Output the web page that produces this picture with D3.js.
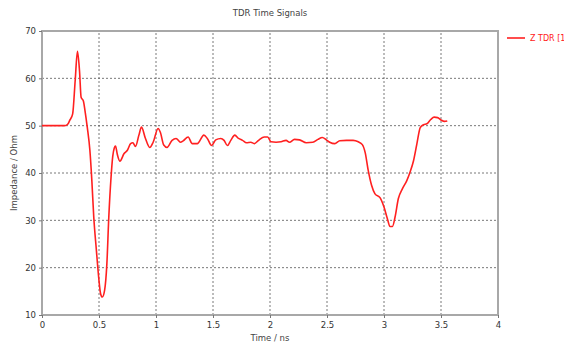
<!DOCTYPE html>
<html>
<head>
<meta charset="utf-8">
<script src="https://cdn.jsdelivr.net/npm/d3@7"></script>
<style>
  body { margin: 0; background: #fff; overflow: hidden; }
  text { font-family: "DejaVu Sans", sans-serif; }
</style>
</head>
<body>
<div id="chart"></div>
<script>
// time axis (ns) and impedance (Ohm)
const timeNs = [0, 0.1, 0.2, 0.225, 0.243, 0.269, 0.291, 0.311, 0.329, 0.343, 0.363, 0.377, 0.397, 0.42, 0.437,
  0.454, 0.477, 0.497, 0.514, 0.529, 0.549, 0.569, 0.586, 0.606, 0.62, 0.634, 0.645, 0.66, 0.683, 0.72, 0.749,
  0.777, 0.797, 0.82, 0.85, 0.873, 0.906, 0.945, 0.975, 1.018, 1.038, 1.068, 1.097, 1.141, 1.176, 1.215, 1.238,
  1.282, 1.318, 1.362, 1.42, 1.45, 1.488, 1.524, 1.568, 1.597, 1.626, 1.656, 1.691, 1.724, 1.759, 1.794, 1.832,
  1.862, 1.9, 1.95, 1.979, 2.009, 2.053, 2.097, 2.141, 2.171, 2.215, 2.259, 2.318, 2.376, 2.42, 2.459, 2.494,
  2.524, 2.568, 2.612, 2.671, 2.729, 2.774, 2.81, 2.835, 2.862, 2.891, 2.921, 2.965, 3.0, 3.029, 3.053, 3.074,
  3.097, 3.126, 3.162, 3.2, 3.229, 3.259, 3.288, 3.318, 3.347, 3.376, 3.41, 3.44, 3.47, 3.5, 3.53, 3.555];
const impedance = [50, 50, 50, 50.3, 51.1, 52.5, 59.5, 65.7, 61.6, 56, 55.2, 53.2, 49.7, 44.8, 38.5,
  30.7, 23.7, 18, 14.5, 13.8, 15.2, 20.8, 30.7, 39.2, 43.4, 45.3, 45.7, 44, 42.5, 44.1, 44.8,
  46.2, 46.4, 45.6, 48, 49.7, 47.4, 45.4, 46.5, 49.4, 48.6, 45.9, 45.4, 46.9, 47.3, 46.5, 46.8,
  47.6, 46.2, 46.2, 48, 47.3, 45.8, 47, 47.3, 46.9, 45.8, 46.9, 48, 47.3, 46.9, 46.4, 46.5,
  46.2, 46.9, 47.6, 47.6, 46.6, 46.5, 46.6, 46.9, 46.5, 47.1, 47, 46.4, 46.5, 47.1, 47.5, 47,
  46.5, 46.2, 46.8, 46.9, 46.9, 46.6, 46, 44.3, 40.5, 37.4, 35.6, 34.8, 32.8, 30.4, 28.7, 28.7,
  30.7, 34.6, 36.7, 38.4, 40.2, 42.6, 46.1, 49.6, 50.2, 50.4, 51.3, 51.8, 51.7, 51.2, 50.9, 51];

const xTicks = [0, 0.5, 1, 1.5, 2, 2.5, 3, 3.5, 4];
const yTicks = [10, 20, 30, 40, 50, 60, 70];
const seriesName = "Z TDR [1]";

const width = 564, height = 343;
const margin = { top: 31, right: 66, bottom: 28, left: 42 };

const svg = d3.select("#chart").append("svg")
  .attr("width", width)
  .attr("height", height);

const x = d3.scaleLinear().domain([0, 4]).range([margin.left, width - margin.right]);
const y = d3.scaleLinear().domain([10, 70]).range([height - margin.bottom, margin.top]);

// grid
const grid = svg.append("g").attr("stroke", "#555").attr("stroke-dasharray", "2,2").attr("stroke-width", 0.8);
grid.selectAll("line.v").data(xTicks.slice(1, -1)).join("line")
  .attr("x1", d => x(d)).attr("x2", d => x(d))
  .attr("y1", y(10)).attr("y2", y(70));
grid.selectAll("line.h").data(yTicks.slice(1, -1)).join("line")
  .attr("x1", x(0)).attr("x2", x(4))
  .attr("y1", d => y(d)).attr("y2", d => y(d));

// frame
svg.append("rect")
  .attr("x", x(0)).attr("y", y(70))
  .attr("width", x(4) - x(0)).attr("height", y(10) - y(70))
  .attr("fill", "none").attr("stroke", "#a8a8a8").attr("stroke-width", 2);

// axes
const xAxis = svg.append("g")
  .attr("transform", `translate(0,${y(10)})`)
  .call(d3.axisBottom(x).tickValues(xTicks).tickFormat(d3.format("")).tickSize(3).tickPadding(4));
const yAxis = svg.append("g")
  .attr("transform", `translate(${x(0)},0)`)
  .call(d3.axisLeft(y).tickValues(yTicks).tickSize(3).tickPadding(3));
[xAxis, yAxis].forEach(a => {
  a.select(".domain").remove();
  a.selectAll(".tick line").attr("stroke", "#777");
  a.selectAll("text").attr("fill", "#333").style("font-size", "8.5px");
});

// curve
const pts = timeNs.map((t, i) => [t, impedance[i]]);
const line = d3.line().x(d => x(d[0])).y(d => y(d[1])).curve(d3.curveMonotoneX);
svg.append("path")
  .datum(pts)
  .attr("d", line)
  .attr("fill", "none")
  .attr("stroke", "#ff2020")
  .attr("stroke-width", 1.6)
  .attr("stroke-linejoin", "round");

// labels
svg.append("text")
  .attr("x", (x(0) + x(4)) / 2).attr("y", 16)
  .attr("text-anchor", "middle").attr("fill", "#444")
  .style("font-size", "8.5px").text("TDR Time Signals");
svg.append("text")
  .attr("x", (x(0) + x(4)) / 2).attr("y", 341)
  .attr("text-anchor", "middle").attr("fill", "#444")
  .style("font-size", "8.5px").text("Time / ns");
svg.append("text")
  .attr("transform", `translate(17,${(y(10) + y(70)) / 2}) rotate(-90)`)
  .attr("text-anchor", "middle").attr("fill", "#444")
  .style("font-size", "8.5px").text("Impedance / Ohm");

// legend (clipped by the window edge, as in the original)
svg.append("line")
  .attr("x1", 507).attr("x2", 525).attr("y1", 38).attr("y2", 38)
  .attr("stroke", "#ff2020").attr("stroke-width", 1.6);
svg.append("text")
  .attr("x", 530).attr("y", 41)
  .attr("fill", "#ff2020").style("font-size", "8px")
  .text(seriesName);
</script>
</body>
</html>
